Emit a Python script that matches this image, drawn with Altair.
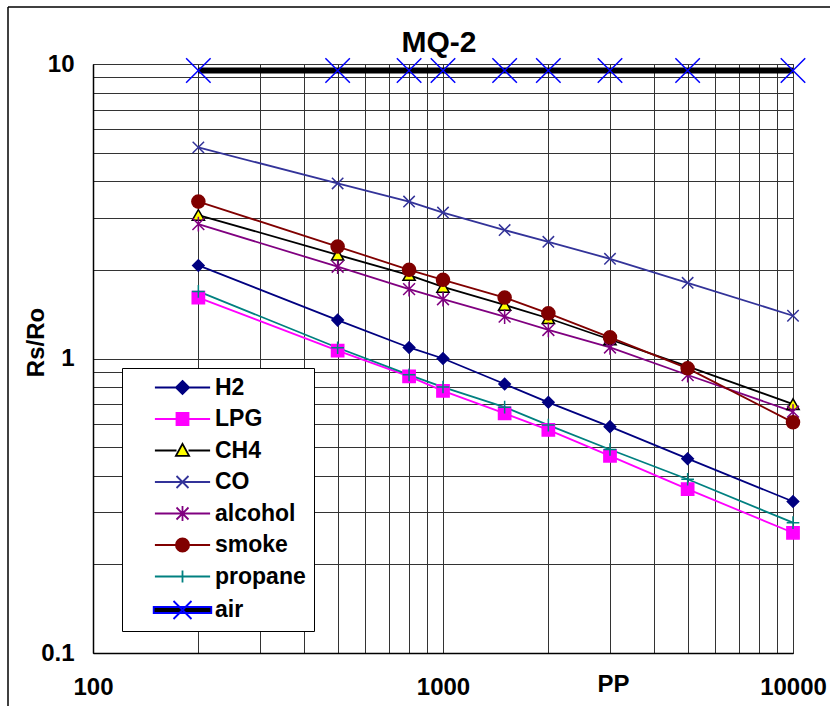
import altair as alt
import pandas as pd

FONT = "Liberation Sans"

# ---- data ----
conc = [200, 500, 800, 1000, 1500, 2000, 3000, 5000, 10000]
series = ["H2", "LPG", "CH4", "CO", "alcohol", "smoke", "propane", "air"]
h2 = [2.07, 1.35, 1.09, 1.00, 0.819, 0.71, 0.587, 0.457, 0.327]
lpg = [1.61, 1.063, 0.87, 0.776, 0.651, 0.572, 0.467, 0.36, 0.256]
ch4 = [3.07, 2.25, 1.92, 1.75, 1.52, 1.37, 1.16, 0.94, 0.70]
co = [5.21, 3.93, 3.41, 3.13, 2.73, 2.49, 2.18, 1.807, 1.397]
alcohol = [2.86, 2.05, 1.72, 1.59, 1.387, 1.25, 1.09, 0.879, 0.66]
smoke = [3.41, 2.40, 2.00, 1.85, 1.61, 1.423, 1.18, 0.926, 0.607]
propane = [1.69, 1.088, 0.88, 0.80, 0.6835, 0.594, 0.491, 0.389, 0.277]
air = [9.5, 9.5, 9.5, 9.5, 9.5, 9.5, 9.5, 9.5, 9.5]

x_grid = [100, 200, 300, 400, 500, 600, 700, 800, 900,
          1000, 2000, 3000, 4000, 5000, 6000, 7000, 8000, 9000, 10000]
y_grid = [0.1, 0.2, 0.3, 0.4, 0.5, 0.6, 0.7, 0.8, 0.9,
          1, 2, 3, 4, 5, 6, 7, 8, 9, 10]

values = {"H2": h2, "LPG": lpg, "CH4": ch4, "CO": co, "alcohol": alcohol,
          "smoke": smoke, "propane": propane, "air": air}
rows = []
for s in series:
    for c, v in zip(conc, values[s]):
        rows.append({"series": s, "ppm": c, "ratio": v})
df = pd.DataFrame(rows)

# ---- styles ----
line_colors = ["#000080", "#FF00FF", "#000000", "#333399", "#800080", "#800000", "#008080", "#000000"]
line_widths = [1.8, 1.8, 1.8, 1.8, 1.8, 1.8, 1.8, 6]
X_PATH = "M-1,-1L1,1M-1,1L1,-1"
AST_PATH = "M-1,-1L1,1M-1,1L1,-1M0,-1.25L0,1.25"
PLUS_PATH = "M0,-1L0,1M-1,0L1,0"
marker_shapes = ["diamond", "square", "triangle-up", X_PATH, AST_PATH, "circle", PLUS_PATH, X_PATH]
marker_fill = ["#000080", "#FF00FF", "#FFFF00", "transparent", "transparent", "#800000", "transparent", "transparent"]
marker_stroke = ["#000080", "#FF00FF", "#000000", "#333399", "#800080", "#800000", "#008080", "#0000FF"]
marker_size = [130, 150, 150, 130, 140, 170, 160, 600]

# legend symbols: line stub + marker in one path
SEG = "M-4.6,0L-1,0M1,0L4.6,0"
LINE = "M-4.6,0L4.6,0"
legend_shapes = [
    SEG + "M0,-1.1L1.1,0L0,1.1L-1.1,0Z",
    SEG + "M-1,-1L1,-1L1,1L-1,1Z",
    SEG + "M0,-1.1L1.1,0.9L-1.1,0.9Z",
    LINE + "M-1,-1L1,1M-1,1L1,-1",
    LINE + "M-1,-1L1,1M-1,1L1,-1M0,-1.25L0,1.25",
    "M-4.6,0L-1.1,0M1.1,0L4.6,0M-1.1,0A1.1,1.1,0,1,1,1.1,0A1.1,1.1,0,1,1,-1.1,0Z",
    LINE + "M0,-1L0,1",
    "M-4.8,-0.5L4.8,-0.5L4.8,0.5L-4.8,0.5ZM-1.5,-1.5L1.5,1.5M-1.5,1.5L1.5,-1.5",
]
legend_fill = ["#000080", "#FF00FF", "#FFFF00", "transparent", "transparent", "#800000", "transparent", "#000000"]
legend_stroke = ["#000080", "#FF00FF", "#000000", "#333399", "#800080", "#800000", "#008080", "#0000FF"]

xscale = alt.Scale(type="log", domain=[100, 10000], nice=False)
yscale = alt.Scale(type="log", domain=[0.1, 10], nice=False)

xaxis = alt.Axis(values=x_grid, format="~g",
                 labelExpr="(datum.value == 100 || datum.value == 1000 || datum.value == 10000) ? datum.label : ''",
                 title="PP", titleX=520, titleY=38, titleAlign="center", titleBaseline="alphabetic",
                 titleFont=FONT, titleFontSize=24, titleFontWeight="bold", titleColor="black",
                 labelFont=FONT, labelFontSize=24, labelFontWeight="bold", labelColor="black",
                 labelPadding=22, labelFlush=False, labelOverlap=False, ticks=False,
                 grid=True, gridColor="#333333", gridWidth=1,
                 domainColor="black", domainWidth=1.5)
yaxis = alt.Axis(values=y_grid, format="~g",
                 labelExpr="(datum.value == 0.1 || datum.value == 1 || datum.value == 10) ? datum.label : ''",
                 title="Rs/Ro", titleX=-50, titleY=278, titleAlign="center", titleBaseline="alphabetic",
                 titleAngle=270,
                 titleFont=FONT, titleFontSize=24, titleFontWeight="bold", titleColor="black",
                 labelFont=FONT, labelFontSize=24, labelFontWeight="bold", labelColor="black",
                 labelPadding=19, labelFlush=False, labelOverlap=False, ticks=False,
                 grid=True, gridColor="#333333", gridWidth=1,
                 domainColor="black", domainWidth=1.5)

X = alt.X("ppm:Q", scale=xscale, axis=xaxis)
Y = alt.Y("ratio:Q", scale=yscale, axis=yaxis)

legend = alt.Legend(orient="none", legendX=29, legendY=304, title=None,
                    fillColor="white", strokeColor="black",
                    labelFont=FONT, labelFontSize=23, labelFontWeight="bold", labelColor="black",
                    symbolSize=144, symbolStrokeWidth=1.8, rowPadding=7.5, padding=8,
                    labelOffset=21, symbolOffset=41, labelLimit=400)

lines = alt.Chart(df).mark_line().encode(
    x=X, y=Y,
    stroke=alt.Stroke("series:N", scale=alt.Scale(domain=series, range=line_colors), legend=None),
    strokeWidth=alt.StrokeWidth("series:N", scale=alt.Scale(type="ordinal", domain=series, range=line_widths), legend=None),
    detail="series:N",
)

points = alt.Chart(df).mark_point(opacity=1, strokeWidth=1.5).encode(
    x=X, y=Y,
    shape=alt.Shape("series:N", scale=alt.Scale(domain=series, range=marker_shapes), legend=None),
    fill=alt.Fill("series:N", scale=alt.Scale(domain=series, range=marker_fill), legend=None),
    stroke=alt.Stroke("series:N", scale=alt.Scale(domain=series, range=marker_stroke), legend=None),
    size=alt.Size("series:N", scale=alt.Scale(type="ordinal", domain=series, range=marker_size), legend=None),
)

# legend-only layer (no rows drawn): carries the legend with line+marker symbols
legend_layer = alt.Chart(df).transform_filter("datum.ppm < 0").mark_point(opacity=1).encode(
    x=X, y=Y,
    shape=alt.Shape("series:N", scale=alt.Scale(domain=series, range=legend_shapes), legend=legend),
    fill=alt.Fill("series:N", scale=alt.Scale(domain=series, range=legend_fill), legend=legend),
    stroke=alt.Stroke("series:N", scale=alt.Scale(domain=series, range=legend_stroke), legend=legend),
)

frame_df = pd.DataFrame({"k": [0]})
frame_left = alt.Chart(frame_df).mark_rule(color="black", strokeWidth=1.5).encode(
    x=alt.value(-85), y=alt.value(-57), y2=alt.value(700))
frame_top = alt.Chart(frame_df).mark_rule(color="black", strokeWidth=1.5).encode(
    x=alt.value(-85), x2=alt.value(800), y=alt.value(-57))

chart = alt.layer(frame_left, frame_top, lines, points, legend_layer).resolve_scale(
    stroke="independent", shape="independent", strokeWidth="independent",
    fill="independent", size="independent"
).properties(
    width=700, height=589,
    autosize=alt.AutoSizeParams(type="none"),
    padding={"left": 93, "top": 64, "right": 37, "bottom": 53},
    title=alt.TitleParams("MQ-2", font=FONT, fontSize=30, fontWeight="bold", color="black",
                          anchor="middle", frame="group", baseline="alphabetic", offset=12, dx=-4, dy=88),
    background="white",
).configure_view(stroke="#555555")

chart.save("out.html", embed_options={"renderer": "svg", "actions": False})
